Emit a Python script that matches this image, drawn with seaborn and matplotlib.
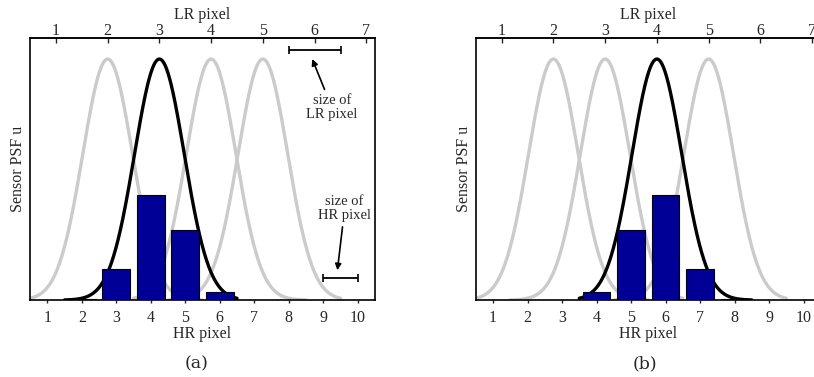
import numpy as np
import pandas as pd
import matplotlib
matplotlib.use('Agg')
import matplotlib.pyplot as plt
import seaborn as sns

sns.set_style('white')
plt.rcParams['font.family'] = ['Liberation Serif', 'DejaVu Serif']

# HR / LR pixel grids
hr_ticks = [1, 2, 3, 4, 5, 6, 7, 8, 9, 10]
lr_ticks = [1, 2, 3, 4, 5, 6, 7]
psf_sigma = 0.72  # PSF width in HR pixels

# panel (a)
a_gray_lr = [2, 4, 5]
a_black_lr = 3
a_bar_hr = [2, 3, 4, 5, 6]
a_bar_val = [0.004, 0.127, 0.435, 0.29, 0.034]

# panel (b)
b_gray_lr = [2, 3, 5]
b_black_lr = 4
b_bar_hr = [4, 5, 6, 7, 8]
b_bar_val = [0.034, 0.29, 0.435, 0.127, 0.004]


def lr2hr(k):
    return 1.5 * np.asarray(k) - 0.25


def hr2lr(h):
    return (np.asarray(h) + 0.25) / 1.5


def psf_curve(k):
    c = float(lr2hr(k))
    lo = np.ceil(round(c - 2.25, 6)) - 0.5
    hi = np.floor(round(c + 2.25, 6)) + 0.5
    x = np.linspace(lo, hi, 300)
    return pd.DataFrame({'x': x, 'y': np.exp(-(x - c) ** 2 / (2 * psf_sigma ** 2))})


def draw_panel(ax, gray_lr, black_lr, bar_hr, bar_val):
    for k in gray_lr:
        sns.lineplot(data=psf_curve(k), x='x', y='y', ax=ax, color='#cbcbcb',
                     lw=2.4, zorder=1, sort=False)
    sns.lineplot(data=psf_curve(black_lr), x='x', y='y', ax=ax, color='black',
                 lw=2.4, zorder=2, sort=False)
    bars = pd.DataFrame({'hr': bar_hr, 'val': bar_val})
    sns.barplot(data=bars, x='hr', y='val', ax=ax, native_scale=True, width=0.8,
                color='#000096', saturation=1, edgecolor='black', linewidth=0.8,
                zorder=3)
    ax.set_xlim(0.5, 10.5)
    ax.set_ylim(0, 1.087)
    ax.set_xticks(hr_ticks)
    ax.set_yticks([])
    ax.set_xlabel('HR pixel', fontsize=11.5, labelpad=0)
    ax.set_ylabel('Sensor PSF u', fontsize=11.5, labelpad=3)
    ax.tick_params(axis='x', direction='out', length=2.5, width=1, labelsize=11.5,
                   pad=4.8, bottom=True)
    for s in ax.spines.values():
        s.set_linewidth(1.2)
        s.set_color('black')
    sec = ax.secondary_xaxis('top', functions=(hr2lr, lr2hr))
    sec.set_xticks(lr_ticks)
    sec.set_xlabel('LR pixel', fontsize=11.5, labelpad=3.5)
    sec.tick_params(direction='in', length=3.5, width=1, labelsize=11.5, pad=-1)
    sec.spines['top'].set_linewidth(1.2)


fig = plt.figure(figsize=(8.14, 3.77), dpi=100)
ax_a = fig.add_axes([0.0369, 0.204, 0.4238, 0.695])
ax_b = fig.add_axes([0.5845, 0.204, 0.4238, 0.695])

draw_panel(ax_a, a_gray_lr, a_black_lr, a_bar_hr, a_bar_val)
draw_panel(ax_b, b_gray_lr, b_black_lr, b_bar_hr, b_bar_val)

# size markers in panel (a)
ax_a.errorbar(8.75, 1.037, xerr=0.75, color='black', lw=1.3, capsize=3, capthick=1.2)
ax_a.annotate('size of\nLR pixel', xy=(8.68, 1.0), xytext=(9.25, 0.855),
              ha='center', va='top', fontsize=10.5, linespacing=1.1,
              arrowprops=dict(arrowstyle='-|>', color='black', lw=1.2,
                              mutation_scale=9, shrinkA=1, shrinkB=0))
ax_a.errorbar(9.5, 0.09, xerr=0.5, color='black', lw=1.3, capsize=3, capthick=1.2)
ax_a.annotate('size of\nHR pixel', xy=(9.41, 0.124), xytext=(9.62, 0.435),
              ha='center', va='top', fontsize=10.5, linespacing=1.1,
              arrowprops=dict(arrowstyle='-|>', color='black', lw=1.2,
                              mutation_scale=9, shrinkA=1, shrinkB=0))

fig.text(0.242, 0.036, '(a)', ha='center', va='center', fontsize=12.5,
         family='DejaVu Serif')
fig.text(0.792, 0.036, '(b)', ha='center', va='center', fontsize=12.5,
         family='DejaVu Serif')

fig.savefig('out.png', dpi=100)
